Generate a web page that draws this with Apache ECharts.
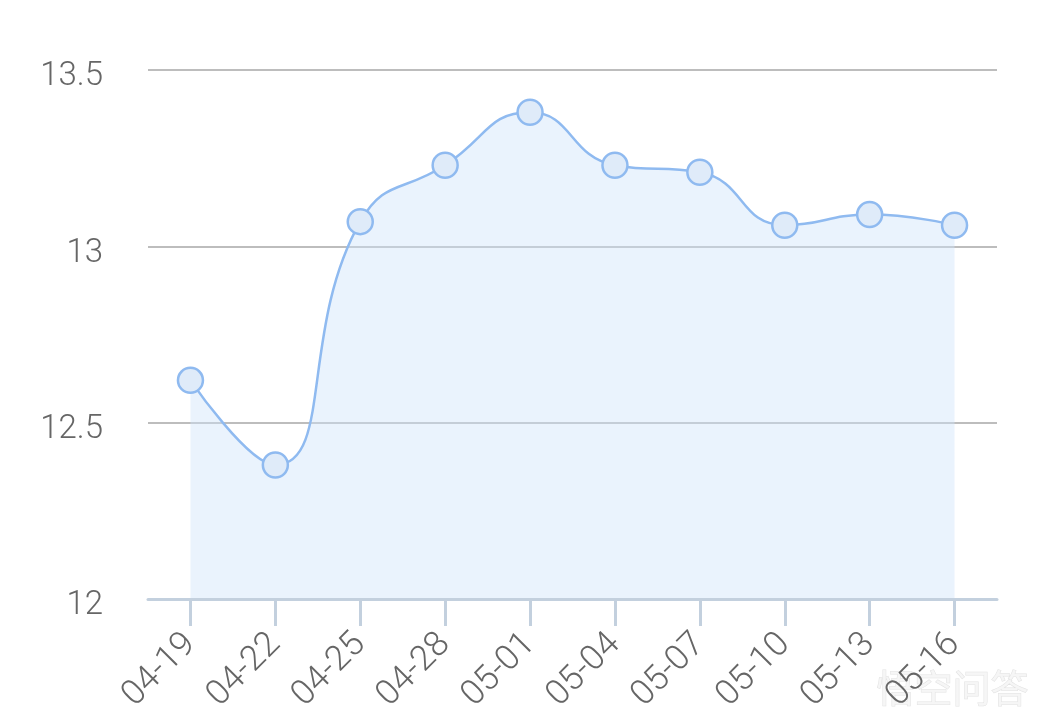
<!DOCTYPE html>
<html><head><meta charset="utf-8">
<script src="https://cdn.jsdelivr.net/npm/echarts@6/dist/echarts.min.js"></script>
<style>html,body{margin:0;padding:0;background:#fff}#c{width:1049px;height:717px}</style>
</head><body><div id="c"></div>
<script>
const categories = ['04-19','04-22','04-25','04-28','05-01','05-04','05-07','05-10','05-13','05-16'];
const values = [12.62, 12.38, 13.07, 13.23, 13.38, 13.23, 13.21, 13.06, 13.09, 13.06];
const yTicks = [12, 12.5, 13, 13.5];
const chart = echarts.init(document.getElementById('c'));
chart.setOption({
  animation: false,
  backgroundColor: '#fff',
  grid: {left: 148, right: 52, top: 70, bottom: 118, containLabel: false},
  xAxis: {
    type: 'category', data: categories, boundaryGap: true,
    axisLine: {show: true, lineStyle: {color: '#c3d0de', width: 3}},
    axisTick: {show: true, alignWithLabel: true, length: 27, lineStyle: {color: '#c3d0de', width: 3}},
    axisLabel: {rotate: 45, color: '#666', fontSize: 35, fontWeight: 300, margin: 40, fontFamily: 'Roboto, sans-serif', interval: 0},
    z: 5
  },
  yAxis: {
    type: 'value', min: 12, max: 13.5, interval: 0.5,
    axisLine: {show: false}, axisTick: {show: false},
    axisLabel: {color: '#666', fontSize: 33, fontWeight: 300, margin: 45, fontFamily: 'Roboto, sans-serif',
      formatter: v => yTicks.includes(v) ? '{a|' + v + '}' : '',
      rich: {a: {color: '#666', fontSize: 33, fontWeight: 300, fontFamily: 'Roboto, sans-serif', padding: [14, 0, 0, 0]}}},
    splitLine: {lineStyle: {color: '#bdbdbd', width: 2}}
  },
  series: [{
    type: 'line', data: values, smooth: true,
    symbol: 'circle', symbolSize: 25,
    lineStyle: {color: '#8fbaf0', width: 2.5},
    itemStyle: {color: '#dfebf9', borderColor: '#8fbaf0', borderWidth: 2.5},
    areaStyle: {color: 'rgba(204,227,250,0.6)', origin: 'start'}
  }],
  graphic: [{
    type: 'text', right: 20, bottom: 10,
    style: {text: '悟空问答', fontSize: 38, fill: 'rgba(245,245,245,0.9)', fontFamily: 'Noto Sans CJK SC',
      stroke: 'rgba(190,190,190,0.45)', lineWidth: 1}
  }]
});
</script></body></html>
